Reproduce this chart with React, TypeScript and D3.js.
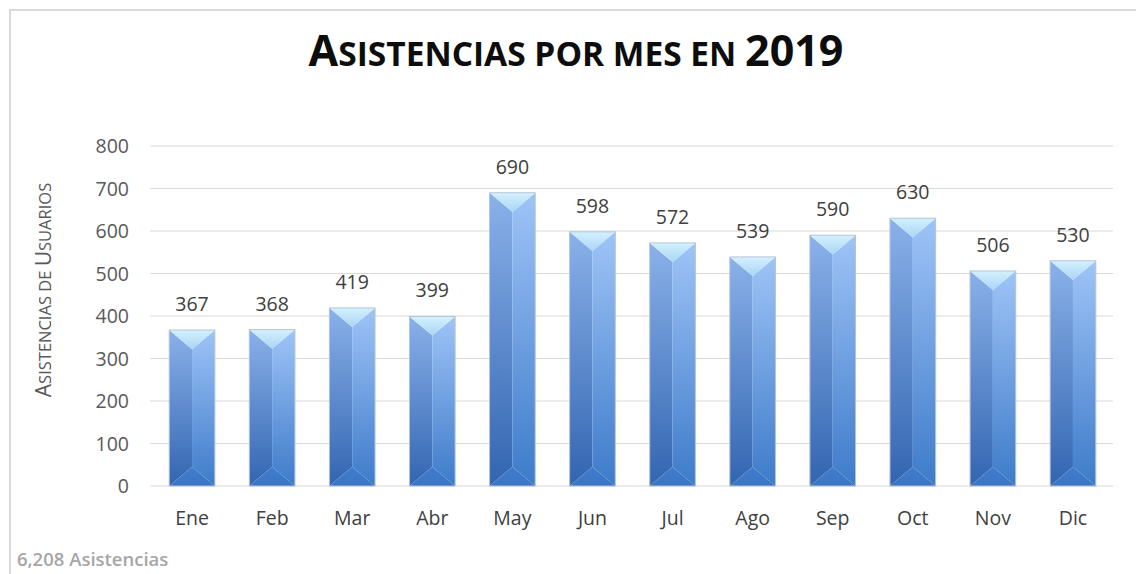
import React from "react";
import * as d3 from "d3";

const months = ["Ene", "Feb", "Mar", "Abr", "May", "Jun", "Jul", "Ago", "Sep", "Oct", "Nov", "Dic"];
const values = [367, 368, 419, 399, 690, 598, 572, 539, 590, 630, 506, 530];
const yTicks = [0, 100, 200, 300, 400, 500, 600, 700, 800];
const totalLabel = "6,208 Asistencias";

const W = 1136;
const H = 574;
const FONT = "'Open Sans', 'Liberation Sans', sans-serif";

export default function App() {
  const x = d3.scaleBand<string>().domain(months).range([152, 1113]).paddingInner(0.43).paddingOuter(0.215);
  const y = d3.scaleLinear().domain([0, 800]).range([486, 146]);
  const bw = x.bandwidth();

  return (
    <svg width={W} height={H} style={{ position: "absolute", left: 0, top: 0, background: "#fff" }}>
      <defs>
        <linearGradient id="leftG" x1="0" y1="0" x2="0" y2="1">
          <stop offset="0" stopColor="#8ab1e9" />
          <stop offset="1" stopColor="#3265b0" />
        </linearGradient>
        <linearGradient id="rightG" x1="0" y1="0" x2="0" y2="1">
          <stop offset="0" stopColor="#9fc4f7" />
          <stop offset="1" stopColor="#3d7bc9" />
        </linearGradient>
        <linearGradient id="topG" x1="0" y1="0" x2="0" y2="1">
          <stop offset="0" stopColor="#d4f1fe" />
          <stop offset="1" stopColor="#a9d5f6" />
        </linearGradient>
        <linearGradient id="botG" x1="0" y1="0" x2="0" y2="1">
          <stop offset="0" stopColor="#417dcc" />
          <stop offset="1" stopColor="#3a75c4" />
        </linearGradient>
      </defs>

      {/* chart border */}
      <path d={`M10,${H} V10 H${W}`} fill="none" stroke="#d9d9d9" strokeWidth={2} />

      {/* title */}
      <text x={576} y={66} textAnchor="middle" fontFamily={FONT} fontWeight="bold" fill="#0d0d0d">
        <tspan fontSize={43}>A</tspan>
        <tspan fontSize={33.5}>SISTENCIAS POR MES EN </tspan>
        <tspan fontSize={43}>2019</tspan>
      </text>

      {/* gridlines */}
      {yTicks.map((t) => (
        <line key={t} x1={150} x2={1113} y1={y(t)} y2={y(t)} stroke="#d9d9d9" strokeWidth={1} />
      ))}

      {/* y tick labels */}
      {yTicks.map((t) => (
        <text key={"l" + t} x={129} y={y(t) + 7} textAnchor="end" fontFamily={FONT} fontSize={19.5} fill="#595959">
          {t}
        </text>
      ))}

      {/* y axis title */}
      <text
        transform={`translate(51, 290) rotate(-90)`}
        textAnchor="middle"
        fontFamily={FONT}
        fill="#595959"
      >
        <tspan fontSize={21}>A</tspan>
        <tspan fontSize={16.5}>SISTENCIAS DE </tspan>
        <tspan fontSize={21}>U</tspan>
        <tspan fontSize={16.5}>SUARIOS</tspan>
      </text>

      {/* bars */}
      {values.map((v, i) => {
        const x0 = x(months[i])!;
        const x1 = x0 + bw;
        const cx = x0 + bw / 2;
        const top = y(v);
        const bot = y(0);
        const h = bw * 0.42;
        return (
          <g key={months[i]}>
            <polygon points={`${x0},${top} ${cx},${top + h} ${cx},${bot - h} ${x0},${bot}`} fill="url(#leftG)" />
            <polygon points={`${x1},${top} ${cx},${top + h} ${cx},${bot - h} ${x1},${bot}`} fill="url(#rightG)" />
            <polygon points={`${x0},${top} ${x1},${top} ${cx},${top + h}`} fill="url(#topG)" />
            <polygon points={`${x0},${bot} ${x1},${bot} ${cx},${bot - h}`} fill="url(#botG)" />
            <rect x={x0} y={top} width={bw} height={bot - top} fill="none" stroke="#b4c3d8" strokeWidth={1} />
            <text x={cx} y={top - 19} textAnchor="middle" fontFamily={FONT} fontSize={19.5} fill="#404040">
              {v}
            </text>
            <text x={cx} y={525} textAnchor="middle" fontFamily={FONT} fontSize={19.5} fill="#404040">
              {months[i]}
            </text>
          </g>
        );
      })}

      {/* footer */}
      <text x={17} y={566} fontFamily={FONT} fontWeight={600} fontSize={18.5} fill="#a6a6a6">
        {totalLabel}
      </text>
    </svg>
  );
}
